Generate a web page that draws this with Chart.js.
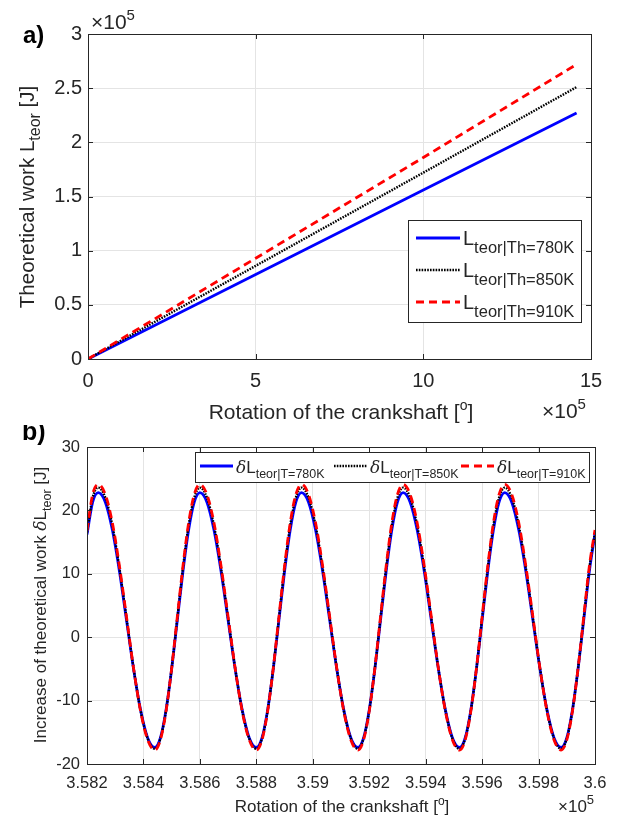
<!DOCTYPE html>
<html><head><meta charset="utf-8">
<script src="https://cdn.jsdelivr.net/npm/chart.js@4.4.1/dist/chart.umd.min.js"></script>
<style>
html,body{margin:0;padding:0;background:#fff;}
#wrap{position:relative;width:617px;height:816px;overflow:hidden;background:#fff;}
canvas{position:absolute;left:0;}
#cA{top:0;} #cB{top:425px;}
</style></head><body>
<div id="wrap"><canvas id="cA" width="617" height="425"></canvas><canvas id="cB" width="617" height="391"></canvas></div>
<script>
// ---------- DATA ----------
// Panel a) : theoretical work vs rotation (x in 10^5 deg, y in 10^5 J)
const rotationA = [0, 5, 10, 14.57];
const work780 = [0, 0.78, 1.56, 2.27];
const work850 = [0, 0.86, 1.72, 2.51];
const work910 = [0, 0.93, 1.86, 2.72];
const xTicksA = [0, 5, 10, 15];
const yTicksA = [0, 0.5, 1, 1.5, 2, 2.5, 3];
const labelsA = ['teor|Th=780K', 'teor|Th=850K', 'teor|Th=910K'];

// Panel b) : increase of theoretical work vs rotation (x in 10^5 deg, y in J)
const rotationB = [3.5820, 3.5822,
  3.5824, 3.58265, 3.5829, 3.58315, 3.5834, 3.58365, 3.5839, 3.58415, 3.5844, 3.5846, 3.5848, 3.5850, 3.5852, 3.5854, 3.5856, 3.5858,
  3.5860, 3.58625, 3.5865, 3.58675, 3.5870, 3.58725, 3.5875, 3.58775, 3.5880, 3.5882, 3.5884, 3.5886, 3.5888, 3.5890, 3.5892, 3.5894,
  3.5896, 3.58985, 3.5901, 3.59035, 3.5906, 3.59085, 3.5911, 3.59135, 3.5916, 3.5918, 3.5920, 3.5922, 3.5924, 3.5926, 3.5928, 3.5930,
  3.5932, 3.59345, 3.5937, 3.59395, 3.5942, 3.59445, 3.5947, 3.59495, 3.5952, 3.5954, 3.5956, 3.5958, 3.5960, 3.5962, 3.5964, 3.5966,
  3.5968, 3.59705, 3.5973, 3.59755, 3.5978, 3.59805, 3.5983, 3.59855, 3.5988, 3.5990, 3.5992, 3.5994, 3.5996, 3.5998, 3.6000];
const dWork780 = [16.2, 21.3,
  22.8, 21.3, 16.9, 10.4, 2.7, -5.0, -11.5, -15.9, -17.4, -15.9, -11.5, -5.0, 2.7, 10.4, 16.9, 21.3,
  22.8, 21.3, 16.9, 10.4, 2.7, -5.0, -11.5, -15.9, -17.4, -15.9, -11.5, -5.0, 2.7, 10.4, 16.9, 21.3,
  22.8, 21.3, 16.9, 10.4, 2.7, -5.0, -11.5, -15.9, -17.4, -15.9, -11.5, -5.0, 2.7, 10.4, 16.9, 21.3,
  22.8, 21.3, 16.9, 10.4, 2.7, -5.0, -11.5, -15.9, -17.4, -15.9, -11.5, -5.0, 2.7, 10.4, 16.9, 21.3,
  22.8, 21.3, 16.9, 10.4, 2.7, -5.0, -11.5, -15.9, -17.4, -15.9, -11.5, -5.0, 2.7, 10.4, 16.3];
const dWork850 = [16.5, 22.0,
  23.6, 22.0, 17.6, 10.9, 3.0, -4.9, -11.6, -16.0, -17.6, -16.0, -11.6, -4.9, 3.0, 10.9, 17.6, 22.0,
  23.6, 22.0, 17.6, 10.9, 3.0, -4.9, -11.6, -16.0, -17.6, -16.0, -11.6, -4.9, 3.0, 10.9, 17.6, 22.0,
  23.6, 22.0, 17.6, 10.9, 3.0, -4.9, -11.6, -16.0, -17.6, -16.0, -11.6, -4.9, 3.0, 10.9, 17.6, 22.0,
  23.6, 22.0, 17.6, 10.9, 3.0, -4.9, -11.6, -16.0, -17.6, -16.0, -11.6, -4.9, 3.0, 10.9, 17.6, 22.0,
  23.6, 22.0, 17.6, 10.9, 3.0, -4.9, -11.6, -16.0, -17.6, -16.0, -11.6, -4.9, 3.0, 10.9, 16.6];
const dWork910 = [16.8, 22.5,
  24.1, 22.5, 18.0, 11.2, 3.2, -4.9, -11.7, -16.2, -17.8, -16.2, -11.7, -4.9, 3.2, 11.2, 18.0, 22.5,
  24.1, 22.5, 18.0, 11.2, 3.2, -4.9, -11.7, -16.2, -17.8, -16.2, -11.7, -4.9, 3.2, 11.2, 18.0, 22.5,
  24.1, 22.5, 18.0, 11.2, 3.2, -4.9, -11.7, -16.2, -17.8, -16.2, -11.7, -4.9, 3.2, 11.2, 18.0, 22.5,
  24.1, 22.5, 18.0, 11.2, 3.2, -4.9, -11.7, -16.2, -17.8, -16.2, -11.7, -4.9, 3.2, 11.2, 18.0, 22.5,
  24.1, 22.5, 18.0, 11.2, 3.2, -4.9, -11.7, -16.2, -17.8, -16.2, -11.7, -4.9, 3.2, 11.2, 16.9];
const xTicksB = [3.582, 3.584, 3.586, 3.588, 3.590, 3.592, 3.594, 3.596, 3.598, 3.600];
const yTicksB = [-20, -10, 0, 10, 20, 30];
const labelsB = ['teor|T=780K', 'teor|T=850K', 'teor|T=910K'];

// ---------- STYLE ----------
const FF = '"Liberation Sans", Arial, Helvetica, sans-serif';
const TXT = '#262626';
const GRID = '#e4e4e4';
const seriesStyle = [
  {color:'#0000ff', width:2.8, dash:[]},
  {color:'#000000', width:2.4, dash:[1.6,1.2]},
  {color:'#ff0000', width:2.8, dash:[8,5]}
];
const f = (size, pre) => (pre ? pre + ' ' : '') + size + 'px ' + FF;

function rich(ctx, parts, x, y, align){
  let w = 0;
  for (const p of parts){ ctx.font = p.f; p.w = ctx.measureText(p.t).width; w += p.w; }
  let cx = align === 'center' ? x - w/2 : (align === 'right' ? x - w : x);
  ctx.textAlign = 'left'; ctx.textBaseline = 'alphabetic';
  for (const p of parts){ ctx.font = p.f; ctx.fillStyle = p.c || TXT; ctx.fillText(p.t, cx, y + (p.dy || 0)); cx += p.w; }
}
function richRot(ctx, parts, x, y){
  ctx.save(); ctx.translate(x, y); ctx.rotate(-Math.PI/2); rich(ctx, parts, 0, 0, 'center'); ctx.restore();
}
function frame(chart, len){
  const {ctx, chartArea:a, scales} = chart;
  ctx.save();
  ctx.strokeStyle = TXT; ctx.lineWidth = 1; ctx.setLineDash([]);
  ctx.strokeRect(a.left + 0.5, a.top + 0.5, a.right - a.left, a.bottom - a.top);
  ctx.beginPath();
  for (const t of scales.x.ticks){
    const px = Math.round(scales.x.getPixelForValue(t.value)) + 0.5;
    ctx.moveTo(px, a.bottom); ctx.lineTo(px, a.bottom - len);
    ctx.moveTo(px, a.top); ctx.lineTo(px, a.top + len);
  }
  for (const t of scales.y.ticks){
    const py = Math.round(scales.y.getPixelForValue(t.value)) + 0.5;
    ctx.moveTo(a.left, py); ctx.lineTo(a.left + len, py);
    ctx.moveTo(a.right, py); ctx.lineTo(a.right - len, py);
  }
  ctx.stroke();
  ctx.restore();
}
function legendBox(ctx, box, entries){
  ctx.save();
  ctx.fillStyle = '#fff'; ctx.fillRect(box.x, box.y, box.w, box.h);
  ctx.strokeStyle = TXT; ctx.lineWidth = 1; ctx.strokeRect(box.x + 0.5, box.y + 0.5, box.w, box.h);
  for (const e of entries){
    ctx.beginPath(); ctx.setLineDash(e.s.dash); ctx.strokeStyle = e.s.color; ctx.lineWidth = e.s.width;
    ctx.moveTo(e.x0, e.ly); ctx.lineTo(e.x1, e.ly); ctx.stroke(); ctx.setLineDash([]);
    rich(ctx, e.parts, e.tx, e.ty, 'left');
  }
  ctx.restore();
}

const plugA = {
  id:'decorA',
  afterDraw(chart){
    const ctx = chart.ctx;
    frame(chart, 5);
    const rows = [238, 270, 302];
    legendBox(ctx, {x:408, y:220, w:173, h:102}, labelsA.map((lab, i) => ({
      s: seriesStyle[i], x0:416, x1:460, ly: rows[i], tx:463, ty: rows[i] + 7,
      parts:[{t:'L', f:f(20)}, {t:lab, f:f(16.5), dy:8}]
    })));
    ctx.save();
    ctx.fillStyle = '#000'; ctx.font = f(24, 'bold'); ctx.textAlign = 'left'; ctx.textBaseline = 'alphabetic';
    ctx.fillText('a)', 23, 43);
    rich(ctx, [{t:'\u00d710', f:f(21)}, {t:'5', f:f(15), dy:-9}], 91, 29, 'left');
    rich(ctx, [{t:'\u00d710', f:f(21)}, {t:'5', f:f(15), dy:-9}], 542, 418, 'left');
    rich(ctx, [{t:'Rotation of the crankshaft [', f:f(21)}, {t:'o', f:f(14), dy:-9}, {t:']', f:f(21)}], 341, 419, 'center');
    richRot(ctx, [{t:'Theoretical work L', f:f(20.5)}, {t:'teor', f:f(16), dy:6}, {t:' [J]', f:f(20.5)}], 34, 197);
    ctx.restore();
  }
};

const plugB = {
  id:'decorB',
  afterDraw(chart){
    const ctx = chart.ctx;
    frame(chart, 5);
    const xs = [[200, 233, 236], [334, 367, 370], [461, 494, 497]];
    legendBox(ctx, {x:195, y:27, w:394, h:30}, labelsB.map((lab, i) => ({
      s: seriesStyle[i], x0: xs[i][0], x1: xs[i][1], ly: 41, tx: xs[i][2], ty: 48,
      parts:[{t:'\u03b4', f:'italic 17px "DejaVu Serif", "Liberation Serif", serif'}, {t:'L', f:f(17)}, {t:lab, f:f(12.5), dy:5}]
    })));
    ctx.save();
    ctx.fillStyle = '#000'; ctx.font = f(25, 'bold'); ctx.textAlign = 'left'; ctx.textBaseline = 'alphabetic';
    ctx.fillText('b)', 22, 15);
    rich(ctx, [{t:'\u00d710', f:f(17)}, {t:'5', f:f(13), dy:-8}], 558, 387, 'left');
    rich(ctx, [{t:'Rotation of the crankshaft [', f:f(17)}, {t:'o', f:f(12), dy:-7}, {t:']', f:f(17)}], 342, 387, 'center');
    richRot(ctx, [{t:'Increase of theoretical work ', f:f(17)}, {t:'\u03b4', f:'italic 17px "DejaVu Serif", "Liberation Serif", serif'}, {t:'L', f:f(17)}, {t:'teor', f:f(12.5), dy:5}, {t:' [J]', f:f(17)}], 46, 180);
    ctx.restore();
  }
};

function ds(label, xs, ys, i, extra){
  const s = seriesStyle[i];
  return Object.assign({
    label, data: xs.map((x, k) => ({x, y: ys[k]})),
    borderColor: s.color, backgroundColor: s.color, borderWidth: s.width, borderDash: s.dash,
    pointRadius: 0, pointHoverRadius: 0, fill: false, order: 3 - i, tension: 0
  }, extra || {});
}
function axis(min, max, ticksArr, size, pad, fitFn, fmt){
  return {
    type:'linear', min, max,
    afterBuildTicks: s => { s.ticks = ticksArr.map(v => ({value: v})); },
    afterFit: fitFn,
    grid:{color: GRID, lineWidth:1, drawTicks:false},
    border:{display:false},
    ticks:{padding: pad, color: TXT, font:{family: FF, size}, autoSkip:false, maxRotation:0, callback: fmt}
  };
}

new Chart(document.getElementById('cA'), {
  type:'line',
  data:{datasets:[
    ds('780K', rotationA, work780, 0),
    ds('850K', rotationA, work850, 1),
    ds('910K', rotationA, work910, 2)
  ]},
  options:{
    responsive:false, animation:false, devicePixelRatio:1,
    layout:{padding:{left:0, top:34, right:26, bottom:0}},
    plugins:{legend:{display:false}, tooltip:{enabled:false}, title:{display:false}},
    scales:{
      x: axis(0, 15, xTicksA, 20, 10, s => { s.height = 66; }, v => String(v)),
      y: axis(0, 3, yTicksA, 20, 6, s => { s.width = 88; }, v => String(v))
    }
  },
  plugins:[plugA]
});

new Chart(document.getElementById('cB'), {
  type:'line',
  data:{datasets:[
    ds('780K', rotationB, dWork780, 0, {cubicInterpolationMode:'monotone'}),
    ds('850K', rotationB, dWork850, 1, {cubicInterpolationMode:'monotone'}),
    ds('910K', rotationB, dWork910, 2, {cubicInterpolationMode:'monotone'})
  ]},
  options:{
    responsive:false, animation:false, devicePixelRatio:1,
    layout:{padding:{left:0, top:22, right:22, bottom:0}},
    plugins:{legend:{display:false}, tooltip:{enabled:false}, title:{display:false}},
    scales:{
      x: axis(3.582, 3.6, xTicksB, 16.5, 10, s => { s.height = 52; }, v => String(parseFloat(Number(v).toFixed(3)))),
      y: axis(-20, 30, yTicksB, 16.5, 7, s => { s.width = 87; }, v => String(v))
    }
  },
  plugins:[plugB]
});
</script>
</body></html>
